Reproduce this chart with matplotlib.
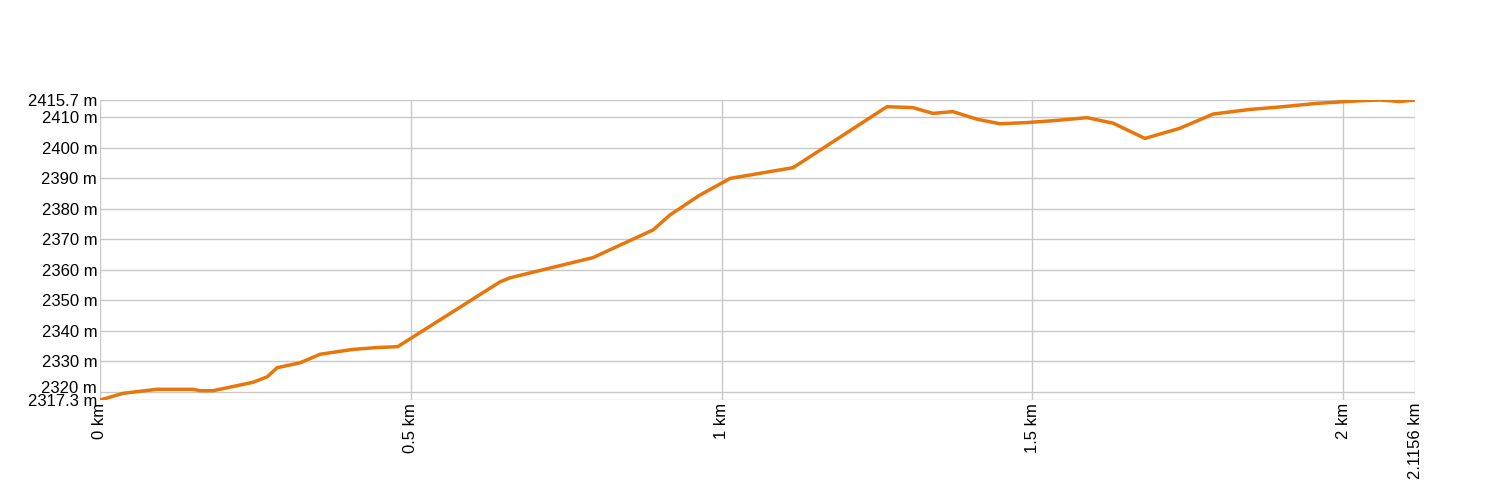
import matplotlib
matplotlib.use("Agg")
import matplotlib.pyplot as plt
import matplotlib.transforms as mtransforms

# elevation profile
distance_km = [0, 0.0375, 0.0912, 0.150, 0.161, 0.182, 0.246, 0.269, 0.285, 0.322,
               0.354, 0.407, 0.446, 0.479, 0.644, 0.660, 0.793, 0.890, 0.917, 0.965,
               1.014, 1.115, 1.266, 1.308, 1.340, 1.372, 1.411, 1.448, 1.491, 1.533,
               1.588, 1.630, 1.681, 1.737, 1.791, 1.850, 1.903, 1.958, 2.022, 2.059,
               2.091, 2.1156]
elevation_m = [2317.3, 2319.5, 2320.8, 2320.8, 2320.35, 2320.35, 2323.1, 2324.9, 2327.9, 2329.5,
               2332.3, 2333.9, 2334.5, 2334.8, 2356.1, 2357.4, 2364.0, 2373.1, 2378.0, 2384.5,
               2390.0, 2393.5, 2413.5, 2413.2, 2411.3, 2411.9, 2409.4, 2407.9, 2408.3, 2408.9,
               2409.9, 2408.1, 2403.1, 2406.4, 2411.1, 2412.6, 2413.5, 2414.6, 2415.4, 2415.7,
               2415.2, 2415.7]

x_ticks = [0, 0.5, 1, 1.5, 2, 2.1156]
x_labels = ["0 km", "0.5 km", "1 km", "1.5 km", "2 km", "2.1156 km"]
y_ticks = [2317.3, 2320, 2330, 2340, 2350, 2360, 2370, 2380, 2390, 2400, 2410, 2415.7]
y_labels = ["2317.3 m", "2320 m", "2330 m", "2340 m", "2350 m", "2360 m", "2370 m",
            "2380 m", "2390 m", "2400 m", "2410 m", "2415.7 m"]

plt.rcParams['font.family'] = ['Liberation Sans', 'DejaVu Sans']

fig = plt.figure(figsize=(15, 5), dpi=100)
ax = fig.add_axes([100 / 1500, 0.2, 1315 / 1500, 0.6])

ax.plot(distance_km, elevation_m, color='#e8760a', linewidth=2.5, zorder=3,
        solid_joinstyle='round')

ax.set_xlim(0, 2.1156)
ax.set_ylim(2317.3, 2415.7)
ax.set_xticks(x_ticks)
ax.set_xticklabels(x_labels, rotation=90, fontsize=12)
ax.set_yticks(y_ticks)
ax.set_yticklabels(y_labels, fontsize=12)
ax.tick_params(length=0, pad=2, colors='black')
ax.grid(True, color='#c8c8c8', linewidth=1)
ax.set_axisbelow(True)
for s in ax.spines.values():
    s.set_visible(False)

# nudge the 2320 label up a little so it clears the 2317.3 label
lbl = ax.get_yticklabels()[1]
lbl.set_transform(lbl.get_transform() +
                  mtransforms.ScaledTranslation(0, 5 / 100, fig.dpi_scale_trans))

fig.savefig("out.png", dpi=100)
